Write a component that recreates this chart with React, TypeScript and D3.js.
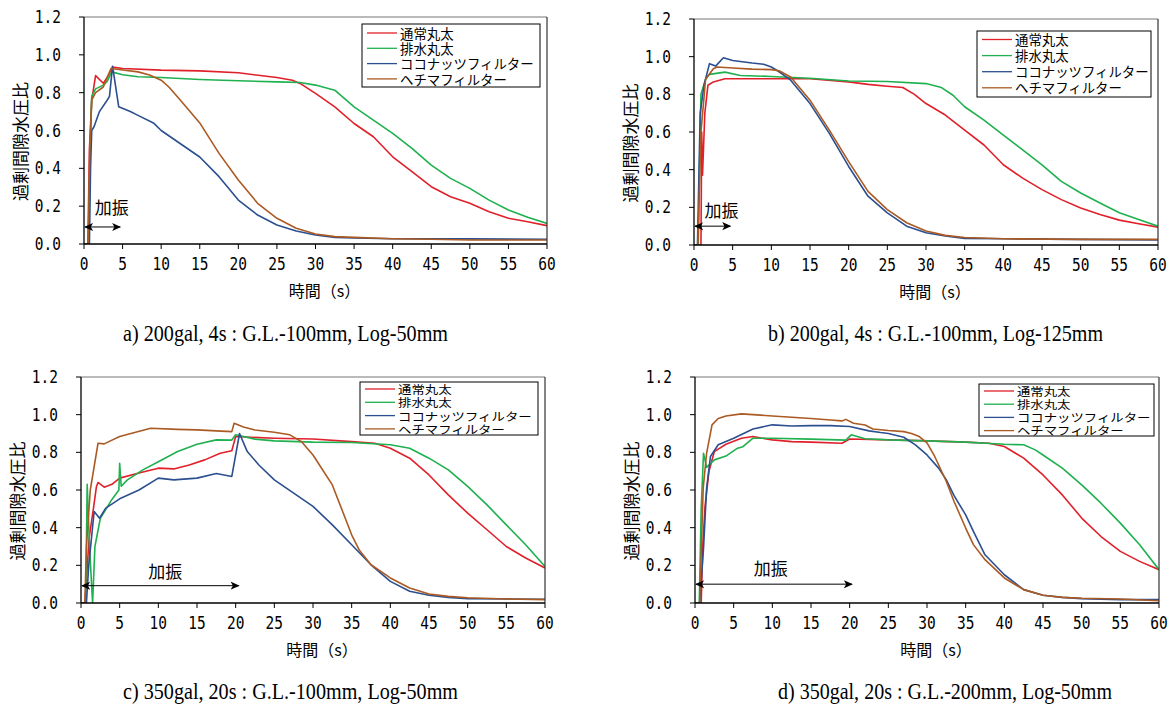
import * as d3 from 'd3';
import React from 'react';

// series names / colours shared by the four panels
const seriesNames = ['通常丸太', '排水丸太', 'ココナッツフィルター', 'ヘチマフィルター'];
const seriesColors = ['#e0202a', '#1fb04f', '#2b4f8f', '#aa5a22'];

const xTicks = [0, 5, 10, 15, 20, 25, 30, 35, 40, 45, 50, 55, 60];
const yTicks = [0, 0.2, 0.4, 0.6, 0.8, 1.0, 1.2];

// [time (s), excess pore water pressure ratio]
// a) 200gal, 4s : G.L.-100mm, Log-50mm
const aRed = [[0, 0], [0.5, 0], [0.7, 0.5], [1, 0.76], [1.5, 0.89], [2.5, 0.85], [3, 0.88], [3.7, 0.935], [5, 0.928], [10, 0.919], [15, 0.915], [20, 0.905], [25, 0.88], [27, 0.866], [28, 0.849], [30, 0.796], [32.5, 0.725], [35, 0.637], [37.5, 0.567], [40, 0.461], [42.5, 0.382], [45, 0.303], [47.5, 0.25], [50, 0.215], [52.5, 0.171], [55, 0.136], [57.5, 0.118], [60, 0.097]];
const aGreen = [[0, 0], [0.6, 0], [0.8, 0.5], [1.0, 0.78], [1.5, 0.82], [2.5, 0.84], [3, 0.86], [3.6, 0.91], [5, 0.895], [7, 0.884], [10, 0.88], [15, 0.87], [20, 0.863], [25, 0.857], [28, 0.854], [30, 0.84], [32.5, 0.813], [35, 0.725], [37.5, 0.655], [40, 0.585], [42.5, 0.505], [45, 0.417], [47.5, 0.347], [50, 0.294], [52.5, 0.232], [55, 0.18], [57.5, 0.141], [60, 0.109]];
const aBlue = [[0, 0], [0.7, 0], [0.85, 0.4], [1, 0.6], [1.3, 0.62], [2, 0.7], [3, 0.76], [3.3, 0.78], [3.7, 0.94], [4.5, 0.725], [6, 0.7], [7, 0.68], [9, 0.64], [10, 0.6], [12.5, 0.53], [15, 0.46], [17.5, 0.356], [20, 0.232], [22.5, 0.153], [25, 0.1], [27.5, 0.069], [30, 0.048], [32.5, 0.035], [35, 0.032], [40, 0.028], [50, 0.027], [60, 0.025]];
const aBrown = [[0, 0], [0.55, 0], [0.75, 0.5], [1, 0.76], [1.5, 0.8], [2.5, 0.83], [3, 0.88], [3.5, 0.928], [5, 0.92], [7, 0.91], [8.5, 0.893], [10, 0.866], [11, 0.83], [12.5, 0.76], [15, 0.64], [17.5, 0.479], [20, 0.338], [22.5, 0.215], [25, 0.136], [27.5, 0.083], [30, 0.053], [32.5, 0.039], [35, 0.035], [40, 0.028], [45, 0.025], [50, 0.021], [60, 0.021]];

// b) 200gal, 4s : G.L.-100mm, Log-125mm
const bRed = [[0, 0], [0.9, 0], [1.0, 0.6], [1.1, 0.37], [1.4, 0.7], [1.8, 0.848], [2.5, 0.866], [4, 0.883], [10, 0.883], [15, 0.883], [20, 0.866], [22.5, 0.853], [25, 0.843], [27, 0.836], [28.5, 0.8], [30, 0.751], [32.5, 0.69], [35, 0.61], [37.5, 0.531], [40, 0.426], [42.5, 0.355], [45, 0.294], [47.5, 0.241], [50, 0.197], [52.5, 0.162], [55, 0.132], [57.5, 0.113], [60, 0.095]];
const bGreen = [[0, 0], [0.55, 0], [0.75, 0.5], [0.9, 0.8], [1.5, 0.88], [2, 0.906], [4, 0.918], [6, 0.9], [10, 0.895], [15, 0.885], [20, 0.871], [25, 0.868], [30, 0.857], [32, 0.836], [33.5, 0.795], [35, 0.734], [37.5, 0.663], [40, 0.584], [42.5, 0.505], [45, 0.426], [47.5, 0.338], [50, 0.276], [52.5, 0.223], [55, 0.171], [57.5, 0.135], [60, 0.1]];
const bBlue = [[0, 0], [0.45, 0], [0.8, 0.7], [1.3, 0.85], [2, 0.963], [2.8, 0.95], [3.8, 0.994], [5, 0.98], [7.5, 0.966], [9, 0.96], [10, 0.945], [11, 0.92], [12.5, 0.875], [15, 0.751], [17.5, 0.593], [20, 0.417], [22.5, 0.259], [25, 0.171], [27.5, 0.1], [30, 0.065], [32.5, 0.048], [35, 0.035], [40, 0.033], [50, 0.03], [60, 0.027]];
const bBrown = [[0, 0], [0.5, 0], [0.9, 0.6], [1.5, 0.88], [2.5, 0.936], [3, 0.945], [5, 0.94], [7.5, 0.934], [10, 0.931], [11, 0.925], [12.5, 0.892], [15, 0.769], [17.5, 0.61], [20, 0.443], [22.5, 0.285], [25, 0.188], [27.5, 0.118], [30, 0.074], [32.5, 0.051], [35, 0.04], [40, 0.033], [50, 0.03], [60, 0.03]];

// c) 350gal, 20s : G.L.-100mm, Log-50mm
const cRed = [[0, 0], [0.5, 0], [1.05, 0.345], [1.6, 0.5], [2, 0.619], [2.2, 0.64], [3, 0.615], [4, 0.63], [5, 0.663], [7.5, 0.69], [10, 0.716], [12, 0.712], [14, 0.733], [16, 0.76], [18, 0.795], [19.5, 0.808], [20, 0.884], [22, 0.88], [25, 0.875], [30, 0.871], [35, 0.857], [38, 0.848], [40, 0.822], [42.5, 0.769], [45, 0.68], [47.5, 0.574], [50, 0.477], [52.5, 0.389], [55, 0.3], [57.5, 0.239], [60, 0.186]];
const cGreen = [[0, 0], [0.6, 0], [0.8, 0.63], [1.1, 0.3], [1.5, 0], [1.8, 0.3], [2.5, 0.45], [4, 0.55], [4.9, 0.6], [5.0, 0.742], [5.2, 0.62], [6, 0.654], [8, 0.707], [10, 0.75], [12.5, 0.804], [15, 0.843], [17.5, 0.866], [19.5, 0.865], [20, 0.893], [22.5, 0.87], [25, 0.861], [30, 0.854], [35, 0.852], [40, 0.84], [42.5, 0.822], [45, 0.769], [47.5, 0.707], [50, 0.619], [52.5, 0.521], [55, 0.415], [57.5, 0.309], [60, 0.194]];
const cBlue = [[0, 0], [0.7, 0], [1.0, 0.2], [1.7, 0.486], [2.4, 0.45], [3.2, 0.504], [5, 0.553], [7.5, 0.6], [10, 0.663], [12, 0.654], [15, 0.663], [17.5, 0.688], [19.5, 0.672], [20.5, 0.9], [21.5, 0.804], [23, 0.733], [25, 0.654], [27.5, 0.583], [30, 0.513], [32.5, 0.415], [35, 0.309], [37.5, 0.203], [40, 0.115], [42.5, 0.062], [45, 0.041], [47.5, 0.03], [50, 0.023], [60, 0.02]];
const cBrown = [[0, 0], [0.5, 0], [0.7, 0.3], [1.2, 0.6], [2.2, 0.848], [3, 0.845], [3.6, 0.857], [5, 0.884], [9, 0.928], [12.5, 0.922], [15, 0.919], [17.5, 0.914], [19.5, 0.91], [19.8, 0.954], [21, 0.935], [22.5, 0.919], [25, 0.907], [27, 0.893], [28.5, 0.857], [30, 0.786], [32.5, 0.627], [35, 0.362], [36, 0.28], [37.5, 0.203], [40, 0.133], [42.5, 0.08], [45, 0.048], [47.5, 0.035], [50, 0.028], [55, 0.021], [60, 0.018]];

// d) 350gal, 20s : G.L.-200mm, Log-50mm
const dRed = [[0, 0], [0.8, 0], [1.0, 0.3], [1.3, 0.513], [1.8, 0.698], [2.5, 0.804], [4, 0.843], [6, 0.875], [7.5, 0.884], [10, 0.866], [12.5, 0.857], [15, 0.854], [19, 0.848], [20, 0.871], [25, 0.866], [30, 0.861], [35, 0.854], [38, 0.848], [40, 0.831], [42.5, 0.769], [45, 0.68], [47.5, 0.574], [50, 0.451], [52.5, 0.353], [55, 0.274], [57.5, 0.221], [60, 0.177]];
const dGreen = [[0, 0], [0.55, 0], [0.8, 0.5], [1.1, 0.795], [1.5, 0.72], [2.5, 0.76], [4, 0.78], [5.5, 0.822], [6.2, 0.83], [7.5, 0.875], [10, 0.875], [15, 0.87], [19.5, 0.865], [20.2, 0.893], [22, 0.872], [25, 0.866], [30, 0.861], [35, 0.854], [40, 0.843], [42.5, 0.84], [44, 0.813], [45, 0.786], [47.5, 0.716], [50, 0.627], [52.5, 0.53], [55, 0.424], [57.5, 0.309], [60, 0.177]];
const dBlue = [[0, 0], [0.6, 0], [1.1, 0.29], [1.5, 0.61], [2, 0.778], [3, 0.84], [5, 0.875], [7.5, 0.924], [10, 0.946], [12.5, 0.94], [15, 0.942], [17.5, 0.942], [20, 0.937], [22.5, 0.914], [24, 0.905], [25, 0.9], [27, 0.88], [28.5, 0.84], [30, 0.786], [31.5, 0.716], [32.5, 0.654], [33.5, 0.57], [35, 0.468], [36, 0.38], [37.5, 0.256], [40, 0.15], [42.5, 0.071], [45, 0.041], [47.5, 0.03], [50, 0.023], [55, 0.018], [60, 0.018]];
const dBrown = [[0, 0], [0.6, 0], [1.06, 0.61], [1.5, 0.795], [2.2, 0.946], [3, 0.98], [4, 0.993], [6, 1.004], [7.5, 1.0], [10, 0.993], [12.5, 0.986], [15, 0.98], [17.5, 0.972], [19, 0.967], [19.5, 0.975], [20.5, 0.954], [22, 0.945], [23, 0.924], [25, 0.916], [27, 0.91], [28, 0.9], [29, 0.884], [30, 0.85], [31, 0.778], [32.5, 0.645], [33.5, 0.539], [35, 0.398], [36, 0.31], [37.5, 0.23], [40, 0.133], [42.5, 0.071], [45, 0.041], [47.5, 0.03], [50, 0.025], [55, 0.021], [60, 0.012]];

const panels = [
  {
    caption: 'a) 200gal, 4s : G.L.-100mm, Log-50mm', capX: 123, capW: 325, capY: 341,
    box: [84, 547, 17, 244], legend: [362, 24, 178, 63, 9, 15.3],
    shakeEnd: 4.7, arrowY: 0.09, labelX: 1.4, labelY: 0.196,
    series: [aRed, aGreen, aBlue, aBrown],
  },
  {
    caption: 'b) 200gal, 4s : G.L.-100mm, Log-125mm', capX: 768, capW: 335, capY: 341,
    box: [694, 1158, 19, 245], legend: [977, 31, 174, 66, 8.5, 16.1],
    shakeEnd: 4.7, arrowY: 0.1, labelX: 1.36, labelY: 0.186,
    series: [bRed, bGreen, bBlue, bBrown],
  },
  {
    caption: 'c) 350gal, 20s : G.L.-100mm, Log-50mm', capX: 123, capW: 335, capY: 699,
    box: [81, 545, 377, 603], legend: [360, 382, 178, 53, 7, 13.3],
    shakeEnd: 20.4, arrowY: 0.092, labelX: 8.7, labelY: 0.175,
    series: [cRed, cGreen, cBlue, cBrown],
  },
  {
    caption: 'd) 350gal, 20s : G.L.-200mm, Log-50mm', capX: 778, capW: 334, capY: 699,
    box: [695, 1159, 377, 603], legend: [979, 384, 175, 52, 7, 13.2],
    shakeEnd: 20.3, arrowY: 0.1, labelX: 7.6, labelY: 0.19,
    series: [dRed, dGreen, dBlue, dBrown],
  },
];

const jp = '"Noto Sans CJK JP", sans-serif';
const legendFont = '"Liberation Sans", "Noto Sans CJK JP", sans-serif';
const mono = '"DejaVu Sans Mono", monospace';

function Panel({ p, idx }) {
  const [x0, x1, yT, yB] = p.box;
  const x = d3.scaleLinear().domain([0, 60]).range([x0, x1]);
  const y = d3.scaleLinear().domain([0, 1.2]).range([yB, yT]);
  const line = d3.line().x(d => x(d[0])).y(d => y(d[1]));
  const [lx, ly, lw, lh, lfirst, lgap] = p.legend;
  const fmt = d3.format('.1f');
  const mid = `arr${idx}`;
  // legend glyphs are drawn a bit smaller and stretched back to full width
  const lfs = Math.min(13.4, lgap * 0.88);
  return (
    <g>
      <defs>
        <marker id={mid} viewBox="0 0 10 10" refX="9" refY="5" markerWidth="9" markerHeight="9" orient="auto-start-reverse" markerUnits="userSpaceOnUse">
          <path d="M0,0.5 L10,5 L0,9.5 L2.5,5 Z" fill="#000" />
        </marker>
        <clipPath id={`clip${idx}`}>
          <rect x={x0} y={yT} width={x1 - x0} height={yB - yT} />
        </clipPath>
      </defs>
      <rect x={x0} y={yT} width={x1 - x0} height={yB - yT} fill="#fff" />
      <g clipPath={`url(#clip${idx})`}>
        {p.series.map((s, i) => (
          <path key={i} d={line(s)} fill="none" stroke={seriesColors[i]} strokeWidth={1.6} strokeLinejoin="round" />
        ))}
      </g>
      {/* frame */}
      <line x1={x0} x2={x1} y1={yT} y2={yT} stroke="#777" strokeWidth={1.2} />
      <line x1={x1} x2={x1} y1={yT} y2={yB} stroke="#333" strokeWidth={1.2} />
      <line x1={x0} x2={x0} y1={yT} y2={yB} stroke="#000" strokeWidth={1.3} />
      <line x1={x0} x2={x1} y1={yB} y2={yB} stroke="#000" strokeWidth={1.3} />
      {yTicks.map(t => (
        <g key={t}>
          <line x1={x0 - 5} x2={x0} y1={y(t)} y2={y(t)} stroke="#000" />
          <text transform={`translate(${x0 - 23},${y(t) + 6}) scale(1,1.18)`} textAnchor="end" fontFamily={mono} fontSize={14.5} fill="#000">{fmt(t)}</text>
        </g>
      ))}
      {xTicks.map(t => (
        <g key={t}>
          <line x1={x(t)} x2={x(t)} y1={yB} y2={yB + 5} stroke="#000" />
          <text transform={`translate(${x(t)},${yB + 26}) scale(1,1.18)`} textAnchor="middle" fontFamily={mono} fontSize={14.5} fill="#000">{t}</text>
        </g>
      ))}
      <text x={(x0 + x1) / 2 + 9} y={yB + 53} textAnchor="middle" fontFamily={jp} fontSize={16} fill="#000">時間（s）</text>
      <text transform={`translate(${x0 - 65},${(yT + yB) / 2 + 11}) rotate(-90)`} textAnchor="middle" dominantBaseline="central" fontFamily={jp} fontSize={17} fill="#000">過剰間隙水圧比</text>
      {/* shaking duration */}
      <line x1={x(0) + 1} x2={x(p.shakeEnd)} y1={y(p.arrowY)} y2={y(p.arrowY)} stroke="#000" strokeWidth={1} markerStart={`url(#${mid})`} markerEnd={`url(#${mid})`} />
      <text x={x(p.labelX)} y={y(p.labelY)} dominantBaseline="central" fontFamily={jp} fontSize={17} fill="#000">加振</text>
      {/* legend */}
      <rect x={lx} y={ly} width={lw} height={lh} fill="#fff" stroke="#000" strokeWidth={1} />
      {seriesNames.map((n, i) => {
        const ry = ly + lfirst + i * lgap;
        return (
          <g key={n}>
            <line x1={lx + 5} x2={lx + 35} y1={ry} y2={ry} stroke={seriesColors[i]} strokeWidth={1.3} />
            <text transform={`translate(${lx + 38},${ry + lfs * 0.42}) scale(${13.4 / lfs},1)`} fontFamily={legendFont} fontSize={lfs} fill="#000">{n}</text>
          </g>
        );
      })}
      <text x={p.capX} y={p.capY} textLength={p.capW} lengthAdjust="spacingAndGlyphs" fontFamily='"Liberation Serif", serif' fontSize={23.5} fill="#000">{p.caption}</text>
    </g>
  );
}

export default function App() {
  return (
    <svg width={1175} height={709} style={{ position: 'absolute', left: 0, top: 0, background: '#fff' }}>
      <rect width={1175} height={709} fill="#fff" />
      {panels.map((p, i) => <Panel key={i} p={p} idx={i} />)}
    </svg>
  );
}
